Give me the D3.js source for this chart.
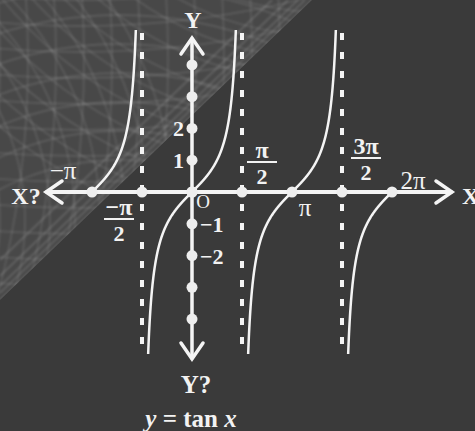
<script src="https://d3js.org/d3.v7.min.js"></script>
<style>
  body { margin: 0; background: #3a3a3a; }
  text { font-family: "Liberation Serif", "DejaVu Serif", serif; fill: #f2f2f2; }
</style>
<svg width="475" height="431"></svg>
<script>
  var PI = Math.PI;

  // x-axis marked points (radians) and y-axis marked points
  var xTicks = [-PI, -PI / 2, 0, PI / 2, PI, 3 * PI / 2, 2 * PI];
  var yTicks = [4, 3, 2, 1, 0, -1, -2, -3, -4];
  var asymptotes = [-PI / 2, PI / 2, 3 * PI / 2];
  // branches of y = tan x drawn in the figure
  var branches = [[-PI, -PI / 2], [-PI / 2, PI / 2], [PI / 2, 3 * PI / 2], [3 * PI / 2, 2 * PI]];
  var yLabels = [{ v: 2, t: "2" }, { v: 1, t: "1" }, { v: -1, t: "\u22121" }, { v: -2, t: "\u22122" }];

  var svg = d3.select("svg");

  var x = d3.scaleLinear().domain([-PI, 2 * PI]).range([92, 392]),
    y = d3.scaleLinear().domain([-5.1, 5.1]).range([354, 30]);

  // textured corner top-left
  var defs = svg.append("defs");
  defs.append("clipPath").attr("id", "corner")
    .append("path").attr("d", "M0,0 L312,0 L0,300 Z");
  defs.append("clipPath").attr("id", "plot")
    .append("rect").attr("x", 0).attr("y", y(5.1)).attr("width", 475).attr("height", y(-5.1) - y(5.1));
  defs.append("filter").attr("id", "soft")
    .append("feGaussianBlur").attr("stdDeviation", 0.8);

  var tex = svg.append("g").attr("clip-path", "url(#corner)");
  tex.append("rect").attr("width", 475).attr("height", 431).attr("fill", "#484848");
  var texLines = tex.append("g").attr("filter", "url(#soft)");
  var rings = [
    { cx: 320, cy: -260, r0: 180, r1: 520, step: 23 },
    { cx: -220, cy: 220, r0: 120, r1: 420, step: 25 },
    { cx: 120, cy: 420, r0: 260, r1: 560, step: 29 },
    { cx: 80, cy: -900, r0: 900, r1: 1200, step: 26 },
    { cx: -900, cy: 60, r0: 900, r1: 1200, step: 28 }
  ];
  rings.forEach(function (f) {
    texLines.selectAll(null)
      .data(d3.range(f.r0, f.r1, f.step))
      .enter().append("circle")
      .attr("cx", f.cx).attr("cy", f.cy).attr("r", function (d) { return d; })
      .attr("fill", "none").attr("stroke", "#fff").attr("stroke-opacity", 0.1).attr("stroke-width", 1.8);
  });
  texLines.selectAll(null)
    .data([0, 7, 14, 24, 40])
    .enter().append("line")
    .attr("x1", function (d) { return 312 - d; }).attr("y1", 0)
    .attr("x2", 0).attr("y2", function (d) { return 300 - d; })
    .attr("stroke", "#fff").attr("stroke-opacity", 0.13).attr("stroke-width", 2);

  // asymptotes
  svg.selectAll(".asym")
    .data(asymptotes)
    .enter().append("line")
    .attr("class", "asym")
    .attr("x1", function (d) { return x(d); }).attr("x2", function (d) { return x(d); })
    .attr("y1", 33).attr("y2", 356)
    .attr("stroke", "#f4f4f4").attr("stroke-width", 4).attr("stroke-dasharray", "7 12");

  // axes
  var ax = svg.append("g").attr("stroke", "#f4f4f4").attr("fill", "none").attr("stroke-linecap", "round");
  ax.append("line").attr("x1", 47).attr("x2", 451).attr("y1", y(0)).attr("y2", y(0)).attr("stroke-width", 4);
  ax.append("line").attr("x1", x(0)).attr("x2", x(0)).attr("y1", 39).attr("y2", 358).attr("stroke-width", 3.5);
  ax.append("path").attr("stroke-width", 3.5)
    .attr("d", "M" + (x(0) - 11) + ",54 L" + x(0) + ",38 L" + (x(0) + 11) + ",54");
  ax.append("path").attr("stroke-width", 3.5)
    .attr("d", "M" + (x(0) - 11) + ",343 L" + x(0) + ",359 L" + (x(0) + 11) + ",343");
  ax.append("path").attr("stroke-width", 3.5)
    .attr("d", "M62," + (y(0) - 11) + " L46," + y(0) + " L62," + (y(0) + 11));
  ax.append("path").attr("stroke-width", 3.5)
    .attr("d", "M436," + (y(0) - 11) + " L452," + y(0) + " L436," + (y(0) + 11));

  // tan curves
  var line = d3.line()
    .x(function (d) { return x(d); })
    .y(function (d) { return y(Math.tan(d)); });
  function isAsym(v) {
    return asymptotes.some(function (a) { return Math.abs(a - v) < 1e-9; });
  }
  var curves = svg.append("g").attr("clip-path", "url(#plot)");
  curves.selectAll(".branch")
    .data(branches)
    .enter().append("path")
    .attr("class", "branch")
    .attr("d", function (b) {
      var lo = isAsym(b[0]) ? b[0] + 0.15 : b[0],
        hi = isAsym(b[1]) ? b[1] - 0.15 : b[1];
      return line(d3.range(lo, hi, 0.005).concat([hi]));
    })
    .attr("fill", "none").attr("stroke", "#f4f4f4").attr("stroke-width", 2.5);

  // dots
  svg.selectAll(".xdot")
    .data(xTicks)
    .enter().append("circle")
    .attr("cx", function (d) { return x(d); }).attr("cy", y(0)).attr("r", 5.5).attr("fill", "#eee");
  svg.selectAll(".ydot")
    .data(yTicks)
    .enter().append("circle")
    .attr("cx", x(0)).attr("cy", function (d) { return y(d); }).attr("r", 5.5).attr("fill", "#eee");

  // y labels
  svg.selectAll(".ylab")
    .data(yLabels)
    .enter().append("text")
    .attr("x", function (d) { return d.v > 0 ? x(0) - 8 : x(0) + 8; })
    .attr("y", function (d) { return y(d.v) + 8; })
    .attr("text-anchor", function (d) { return d.v > 0 ? "end" : "start"; })
    .style("font-size", "22px").style("font-weight", "bold")
    .text(function (d) { return d.t; });

  function label(t, px, py, size, anchor, weight) {
    return svg.append("text").attr("x", px).attr("y", py)
      .attr("text-anchor", anchor || "middle")
      .style("font-size", size + "px").style("font-weight", weight || "bold")
      .text(t);
  }
  function frac(num, cx, lineY) {
    label(num, cx, lineY - 4, 24);
    svg.append("line").attr("x1", cx - 15).attr("x2", cx + 15).attr("y1", lineY).attr("y2", lineY)
      .attr("stroke", "#f2f2f2").attr("stroke-width", 2);
    label("2", cx, lineY + 22, 22);
  }

  label("Y", 193, 28, 24);
  label("Y?", 196, 393, 25);
  label("X?", 26, 204, 24);
  label("X", 462, 204, 24, "start");
  label("\u2212\u03c0", 63, 179, 25, "middle", "normal");
  label("O", 203, 208, 19, "middle", "normal");
  label("\u03c0", 305, 216, 25, "middle", "normal");
  label("2\u03c0", 413, 189, 25, "middle", "normal");
  frac("\u2212\u03c0", 119, 219);
  frac("\u03c0", 262, 162);
  frac("3\u03c0", 366, 158);

  var eq = svg.append("text").attr("x", 191).attr("y", 427).attr("text-anchor", "middle")
    .style("font-size", "25px").style("font-weight", "bold");
  eq.append("tspan").style("font-style", "italic").text("y");
  eq.append("tspan").text(" = tan ");
  eq.append("tspan").style("font-style", "italic").text("x");
</script>
